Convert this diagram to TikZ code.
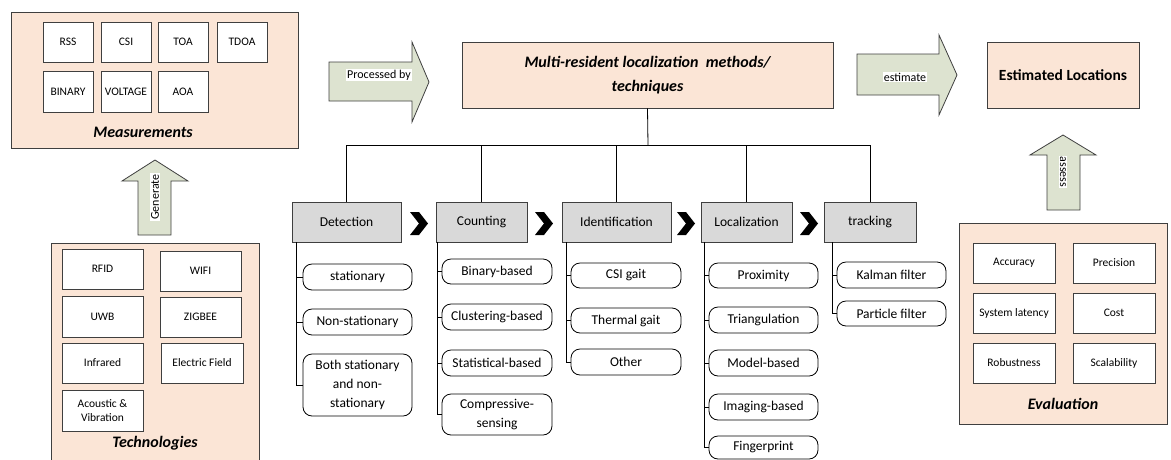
\documentclass[tikz,border=0pt]{standalone}
\usepackage{fontspec}
\setmainfont{Carlito}

\definecolor{peach}{HTML}{FBE5D6}
\definecolor{sage}{HTML}{DDE3D0}
\definecolor{stagegray}{HTML}{D9D9D9}
\definecolor{edge}{HTML}{3F3F3F}

\tikzset{
  panel/.style={draw=edge, fill=peach, line width=0.9pt, inner sep=0pt},
  itembox/.style={draw=edge, fill=white, line width=0.8pt, align=center, inner sep=1pt,
    font=\fontsize{11.5}{14}\selectfont},
  stagebox/.style={draw=edge, fill=stagegray, line width=0.8pt, inner sep=1pt,
    font=\fontsize{13.5}{16}\selectfont},
  pill/.style={draw=black, fill=white, rounded corners=9pt, line width=0.8pt, align=center,
    inner sep=1pt, font=\fontsize{13.5}{19}\selectfont},
  headbox/.style={draw=edge, fill=peach, line width=0.9pt, align=center, inner sep=1pt},
  methodsfont/.style={font=\fontsize{16}{24}\selectfont\bfseries\itshape},
  resultfont/.style={font=\fontsize{15.5}{19}\selectfont\bfseries},
  blockarrow/.style={draw=edge, fill=sage, line width=0.8pt, line join=miter},
  arrowlabel/.style={fill=white, inner sep=1pt, font=\fontsize{12}{14}\selectfont},
  caption/.style={font=\fontsize{16}{19}\selectfont\bfseries\itshape},
  tree/.style={draw=black, line width=0.8pt},
  chevron/.style={fill=black}
}

% box from its corners: style, name, x1, y1, x2, y2, text
\newcommand\bx[7]{\node[#1, minimum width={#5-#3}, minimum height={#6-#4}]
  (#2) at ({(#3+#5)/2},{(#4+#6)/2}) {#7};}
% solid chevron starting at x
\newcommand\chev[1]{\fill[chevron] (#1,212) -- ({#1+9},212) -- ({#1+18},223.5)
  -- ({#1+9},235) -- (#1,235) -- ({#1+9},223.5) -- cycle;}

\begin{document}
\begin{tikzpicture}[x=1pt,y=-1pt]
\useasboundingbox (0,0) rectangle (1171,459);

% ---------- Measurements ----------
\bx{panel}{meas}{11}{12}{298}{148}{}
\bx{itembox}{rss}{43}{22}{93}{62}{RSS}
\bx{itembox}{csi}{101}{22}{151}{62}{CSI}
\bx{itembox}{toa}{158}{22}{208}{62}{TOA}
\bx{itembox}{tdoa}{217}{22}{267}{62}{TDOA}
\bx{itembox}{bin}{43}{71}{93}{112}{BINARY}
\bx{itembox}{volt}{101}{71}{151}{112}{VOLTAGE}
\bx{itembox}{aoa}{158}{71}{208}{112}{AOA}
\node[caption] (measlbl) at (143,132) {Measurements};

% ---------- Technologies ----------
\bx{panel}{tech}{51}{243}{259}{462}{}
\bx{itembox}{rfid}{62}{249}{143}{289}{RFID}
\bx{itembox}{wifi}{160}{251}{241}{291}{WIFI}
\bx{itembox}{uwb}{62}{296}{143}{337}{UWB}
\bx{itembox}{zig}{160}{297}{241}{337}{ZIGBEE}
\bx{itembox}{ir}{62}{343}{143}{383}{Infrared}
\bx{itembox}{ef}{161}{343}{243}{383}{Electric Field}
\bx{itembox}{acou}{62}{390}{143}{431}{Acoustic \&\\Vibration}
\node[caption] (techlbl) at (155,443) {Technologies};

% Generate arrow
\draw[blockarrow] (138,235) -- (138,181) -- (122,181) -- (155,160) -- (188,181)
  -- (171,181) -- (171,235) -- cycle;
\node[arrowlabel, rotate=90] (gen) at (155,197) {Generate};

% ---------- Central header ----------
\draw[blockarrow] (329,62) -- (412,62) -- (412,42) -- (429,82) -- (412,122)
  -- (412,101) -- (329,101) -- cycle;
\node[arrowlabel] (proc) at (379,75) {Processed by};

\bx{headbox,methodsfont}{main}{462}{42}{833}{108}{Multi-resident localization\ \ methods/\\techniques}

\draw[blockarrow] (857,54) -- (939,54) -- (939,35) -- (957,75) -- (939,115)
  -- (939,95) -- (857,95) -- cycle;
\node[arrowlabel] (est) at (905,77) {estimate};

\bx{headbox,resultfont}{loc}{987}{42}{1139}{108}{Estimated Locations}

% ---------- Stages ----------
\bx{stagebox}{det}{292}{202}{401}{242}{Detection}
\bx{stagebox}{cnt}{436}{202}{527}{242}{Counting}
\bx{stagebox}{idn}{562}{202}{671}{242}{Identification}
\bx{stagebox}{lcz}{701}{202}{792}{242}{Localization}
\bx{stagebox}{trk}{824}{202}{916}{242}{tracking}

\chev{410}
\chev{535}
\chev{677}
\chev{800}

% bus from the header to every stage
\coordinate (bus) at (648,145);
\draw[tree] (main.south) -- (bus);
\draw[tree] (det.north) -- (det.north |- bus) -- (trk.north |- bus) -- (trk.north);
\foreach \s in {cnt,idn,lcz}
  \draw[tree] (\s.north) -- (\s.north |- bus);

% ---------- Sub-items ----------
\bx{pill}{d1}{303}{264}{412}{290}{stationary}
\bx{pill}{d2}{303}{309}{412}{335}{Non-stationary}
\bx{pill}{d3}{303}{354}{412}{416}{Both stationary\\and non-\\stationary}

\bx{pill}{c1}{442}{259}{552}{284}{Binary-based}
\bx{pill}{c2}{442}{304}{552}{330}{Clustering-based}
\bx{pill}{c3}{442}{350}{552}{376}{Statistical-based}
\bx{pill}{c4}{442}{394}{552}{435}{Compressive-\\sensing}

\bx{pill}{i1}{571}{263}{681}{288}{CSI gait}
\bx{pill}{i2}{571}{308}{681}{333}{Thermal gait}
\bx{pill}{i3}{571}{349}{681}{375}{Other}

\bx{pill}{l1}{709}{263}{818}{288}{Proximity}
\bx{pill}{l2}{709}{307}{818}{333}{Triangulation}
\bx{pill}{l3}{709}{350}{818}{376}{Model-based}
\bx{pill}{l4}{709}{394}{818}{420}{Imaging-based}
\bx{pill}{l5}{709}{436}{818}{459}{Fingerprint}

\bx{pill}{t1}{837}{262}{946}{288}{Kalman filter}
\bx{pill}{t2}{837}{301}{946}{326}{Particle filter}

\coordinate (detl) at ([xshift=5pt]det.south west);
\coordinate (cntl) at ([xshift=2pt]cnt.south west);
\coordinate (idnl) at ([xshift=5pt]idn.south west);
\coordinate (lczl) at ([xshift=4pt]lcz.south west);
\coordinate (trkl) at ([xshift=9pt]trk.south west);

\foreach \p in {d1,d2,d3} \draw[tree] (detl) |- (\p.west);
\foreach \p in {c1,c2,c3,c4} \draw[tree] (cntl) |- (\p.west);
\foreach \p in {i1,i2,i3} \draw[tree] (idnl) |- (\p.west);
\foreach \p in {l1,l2,l3,l4,l5} \draw[tree] (lczl) |- (\p.west);
\foreach \p in {t1,t2} \draw[tree] (trkl) |- (\p.west);

% ---------- Evaluation ----------
\draw[blockarrow] (1047,210) -- (1047,155) -- (1030,155) -- (1063,135) -- (1096,155)
  -- (1080,155) -- (1080,210) -- cycle;
\node[arrowlabel, rotate=-90] (asm) at (1063,172) {assess};

\bx{panel}{eval}{959}{223}{1167}{424}{}
\bx{itembox}{acc}{973}{243}{1055}{283}{Accuracy}
\bx{itembox}{prec}{1073}{243}{1155}{283}{Precision}
\bx{itembox}{lat}{973}{293}{1055}{333}{System latency}
\bx{itembox}{cost}{1073}{293}{1155}{333}{Cost}
\bx{itembox}{rob}{973}{343}{1055}{383}{Robustness}
\bx{itembox}{scal}{1073}{343}{1155}{383}{Scalability}
\node[caption] (evallbl) at (1063,404) {Evaluation};
\end{tikzpicture}
\end{document}
